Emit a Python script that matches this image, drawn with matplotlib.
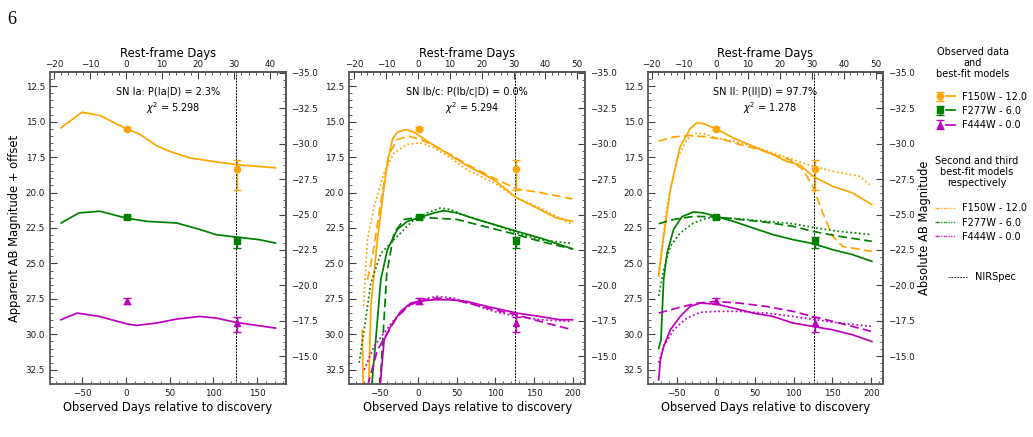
import matplotlib
matplotlib.use("Agg")
import matplotlib.pyplot as plt
from matplotlib.ticker import MultipleLocator
from matplotlib.lines import Line2D
from matplotlib.legend_handler import HandlerTuple

plt.rcParams['font.family'] = ['DejaVu Sans']

ONE_PLUS_Z = 4.12
DIST_MOD = 46.55

# ---------------- observed photometry ----------------
obs_days = [1, 127]
f150_obs = [15.5, 18.35]
f150_err = [[0.12, 0.63], [0.12, 1.45]]
f277_obs = [21.75, 23.45]
f277_err = [[0.12, 0.3], [0.12, 0.45]]
f444_obs = [27.62, 29.2]
f444_err = [[0.2, 0.42], [0.25, 0.6]]
nirspec_day = 126

band_labels = ["F150W - 12.0", "F277W - 6.0", "F444W - 0.0"]
band_colors = ["orange", "green", "m"]
band_markers = ["o", "s", "^"]

panel_titles = ["SN Ia: P(Ia|D) = 2.3%", "SN Ib/c: P(Ib/c|D) = 0.0%", "SN II: P(II|D) = 97.7%"]
panel_chi2 = ["5.298", "5.294", "1.278"]

# ---------------- SN Ia best fit ----------------
ia_f150_x = [-74.4, -50.5, -29.6, 0, 16, 35, 50, 73, 99, 126, 171]
ia_f150_y = [15.44, 14.34, 14.57, 15.5, 15.9, 16.7, 17.1, 17.56, 17.8, 18.03, 18.26]
ia_f277_x = [-74.4, -54, -30, 0, 23.5, 58, 84, 103, 126, 152, 171]
ia_f277_y = [22.15, 21.44, 21.32, 21.8, 22.03, 22.15, 22.6, 22.97, 23.14, 23.32, 23.56]
ia_f444_x = [-74.4, -56, -30, 0, 12, 35, 58, 84, 103, 126, 171]
ia_f444_y = [28.97, 28.5, 28.74, 29.25, 29.37, 29.2, 28.92, 28.74, 28.85, 29.16, 29.56]

# ---------------- SN Ib/c models ----------------
ibc_f150_x = [-72, -70.5, -64, -60.9, -52.3, -45.9, -39.5, -33, -26.6, -15.9, -5.1, 12, 33.4, 63.5, 97.8, 127.8, 157.8, 179, 199.8]
ibc_f150_y = [29.7, 34.5, 34.5, 28.03, 23.3, 20.5, 17.9, 16.26, 15.75, 15.56, 15.75, 16.38, 17.09, 18.1, 19.09, 20.38, 21.2, 21.8, 22.03]
ibc_f150_x2 = [-65.2, -58.7, -48, -37.3, -26.6, -11.6, 3.4, 20.6, 42, 63.5, 89.2, 106.3, 127.8, 157.8, 199.8]
ibc_f150_y2 = [26.15, 24.5, 20.7, 17.3, 16.26, 16.03, 16.26, 16.69, 17.32, 18.03, 18.74, 19.2, 19.75, 20.0, 20.45]
ibc_f150_x3 = [-70.3, -65.2, -56.6, -43.7, -30.9, -13.7, 3.4, 20.6, 42, 63.5, 97.8, 127.8, 157.8, 199.8]
ibc_f150_y3 = [28.0, 23.3, 21.0, 18.6, 17.2, 16.6, 16.5, 16.85, 17.56, 18.4, 19.3, 20.38, 21.1, 22.26]

ibc_f277_x = [-60, -58.7, -54.5, -48, -39.5, -26.6, -13.7, 0, 20.6, 33.4, 50.6, 76.3, 106.3, 127.8, 157.8, 199.8]
ibc_f277_y = [34.5, 33.0, 30.4, 26.15, 24.03, 22.6, 22.03, 21.8, 21.44, 21.28, 21.44, 21.9, 22.38, 22.74, 23.2, 23.98]
ibc_f277_x2 = [-50, -44.6, -40.3, -30.9, -18, 0, 20.6, 50.6, 84.9, 127.8, 157.8, 199.8]
ibc_f277_y2 = [34.5, 29.7, 25.7, 22.85, 21.9, 21.75, 21.8, 21.9, 22.38, 22.97, 23.44, 23.98]
ibc_f277_x3 = [-75.9, -69.5, -60.9, -48, -35.2, -22.3, -5.1, 12, 29.2, 42, 63.5, 97.8, 127.8, 157.8, 199.8]
ibc_f277_y3 = [32.0, 29.68, 26.4, 24.3, 23.56, 22.85, 21.9, 21.44, 21.09, 21.2, 21.68, 22.26, 22.85, 23.32, 23.6]

ibc_f444_x = [-50.2, -43.7, -35.2, -22.3, -9.4, 0, 20.6, 42, 63.5, 89.2, 127.8, 157.8, 183.5, 199.8]
ibc_f444_y = [34.5, 30.4, 29.44, 28.38, 27.8, 27.68, 27.56, 27.56, 27.68, 28.03, 28.5, 28.74, 28.97, 28.97]
ibc_f444_x2 = [-69.5, -52.3, -39.5, -26.6, -9.4, 7.7, 24.9, 46.3, 72, 97.8, 127.8, 157.8, 199.8]
ibc_f444_y2 = [34.5, 31.1, 29.9, 28.74, 27.9, 27.56, 27.44, 27.56, 27.9, 28.26, 28.62, 29.09, 29.68]
ibc_f444_x3 = [-69.5, -56.6, -43.7, -30.9, -13.7, 3.4, 24.9, 46.3, 72, 97.8, 127.8, 157.8, 199.8]
ibc_f444_y3 = [32.5, 30.85, 29.9, 28.97, 28.03, 27.56, 27.32, 27.44, 27.9, 28.38, 28.74, 28.97, 29.09]

# ---------------- SN II models ----------------
ii_f150_x = [-73.3, -66.9, -58.3, -45.6, -32.8, -24.3, -15.8, 0, 22.6, 48.1, 73.7, 90.7, 107.8, 124.8, 150.3, 175.9, 200.6]
ii_f150_y = [25.9, 23.09, 19.8, 16.74, 15.5, 15.09, 15.14, 15.5, 16.15, 16.74, 17.32, 17.8, 18.03, 18.85, 19.56, 20.03, 20.85]
ii_f150_x2 = [-73.3, -54.1, -32.8, -11.5, 9.8, 31.1, 56.6, 73.7, 95, 112, 124.8, 137.6, 150.3, 163.1, 200.6]
ii_f150_y2 = [16.38, 16.08, 15.98, 16.08, 16.26, 16.62, 16.97, 17.32, 17.68, 18.38, 19.56, 21.44, 23.09, 23.8, 24.15]
ii_f150_x3 = [-73.3, -62.6, -49.8, -37.1, -24.3, -11.5, 0, 22.6, 48.1, 73.7, 99.2, 124.8, 150.3, 184.4, 200.6]
ii_f150_y3 = [25.68, 21.0, 17.68, 16.26, 15.8, 15.9, 16.15, 16.38, 16.74, 17.2, 17.68, 18.15, 18.5, 18.85, 19.56]

ii_f277_x = [-73.3, -70.3, -66.9, -62.6, -54.1, -43.4, -28.5, -15.8, 0, 22.6, 48.1, 73.7, 99.2, 124.8, 150.3, 175.9, 200.6]
ii_f277_y = [31.0, 30.4, 26.15, 24.3, 22.6, 21.7, 21.37, 21.44, 21.68, 22.03, 22.5, 22.97, 23.32, 23.6, 24.03, 24.38, 24.85]
ii_f277_x2 = [-73.3, -54.1, -28.5, 0, 31.1, 65.2, 99.2, 124.8, 158.9, 200.6]
ii_f277_y2 = [22.2, 21.9, 21.68, 21.72, 21.9, 22.1, 22.38, 22.74, 23.09, 23.44]
ii_f277_x3 = [-73.3, -66.9, -58.3, -45.6, -28.5, -11.5, 0, 31.1, 65.2, 99.2, 129.1, 158.9, 200.6]
ii_f277_y3 = [27.3, 25.44, 23.8, 22.85, 22.15, 21.8, 21.75, 21.86, 22.03, 22.2, 22.5, 22.74, 22.97]

ii_f444_x = [-73.3, -71.1, -66.9, -58.3, -45.6, -32.8, -20.0, 0, 22.6, 48.1, 73.7, 99.2, 124.8, 150.3, 175.9, 200.6]
ii_f444_y = [33.2, 31.8, 30.85, 29.68, 28.74, 28.03, 27.8, 27.86, 28.15, 28.5, 28.74, 29.2, 29.44, 29.68, 30.03, 30.5]
ii_f444_x2 = [-73.3, -49.8, -24.3, 0, 31.1, 65.2, 99.2, 124.8, 158.9, 200.6]
ii_f444_y2 = [28.5, 28.15, 27.8, 27.68, 27.8, 28.03, 28.38, 28.74, 29.2, 29.8]
ii_f444_x3 = [-73.3, -66.9, -54.1, -37.1, -20.0, 0, 31.1, 65.2, 99.2, 129.1, 158.9, 200.6]
ii_f444_y3 = [32.0, 30.85, 29.68, 28.85, 28.45, 28.38, 28.38, 28.5, 28.74, 28.97, 29.2, 29.44]

panel_xlims = [(-87, 183), (-89, 216), (-87, 215)]

panels = [
    {"best": [(ia_f150_x, ia_f150_y), (ia_f277_x, ia_f277_y), (ia_f444_x, ia_f444_y)],
     "second": None, "third": None},
    {"best": [(ibc_f150_x, ibc_f150_y), (ibc_f277_x, ibc_f277_y), (ibc_f444_x, ibc_f444_y)],
     "second": [(ibc_f150_x2, ibc_f150_y2), (ibc_f277_x2, ibc_f277_y2), (ibc_f444_x2, ibc_f444_y2)],
     "third": [(ibc_f150_x3, ibc_f150_y3), (ibc_f277_x3, ibc_f277_y3), (ibc_f444_x3, ibc_f444_y3)]},
    {"best": [(ii_f150_x, ii_f150_y), (ii_f277_x, ii_f277_y), (ii_f444_x, ii_f444_y)],
     "second": [(ii_f150_x2, ii_f150_y2), (ii_f277_x2, ii_f277_y2), (ii_f444_x2, ii_f444_y2)],
     "third": [(ii_f150_x3, ii_f150_y3), (ii_f277_x3, ii_f277_y3), (ii_f444_x3, ii_f444_y3)]},
]

obs_sets = [(f150_obs, f150_err), (f277_obs, f277_err), (f444_obs, f444_err)]

fig = plt.figure(figsize=(10.33, 4.37), dpi=100)
lefts = [0.0484, 0.3379, 0.6273]
widths = [0.2285, 0.2285, 0.2275]
bottom, height = 0.1213, 0.714

spine_col = '0.35'
tick_fs = 6.3
lab_fs = 8.3

err_handles = []
line_handles = []
for i, p in enumerate(panels):
    ax = fig.add_axes([lefts[i], bottom, widths[i], height])
    for b in range(3):
        c = band_colors[b]
        bx, by = p["best"][b]
        ln, = ax.plot(bx, by, color=c, lw=1.25, ls='-')
        if p["second"] is not None:
            sx, sy = p["second"][b]
            ax.plot(sx, sy, color=c, lw=1.25, ls=(0, (5, 2.5)))
            tx, ty = p["third"][b]
            ax.plot(tx, ty, color=c, lw=1.25, ls=(0, (1, 1.5)))
        yv, ye = obs_sets[b]
        eb = ax.errorbar(obs_days, yv, yerr=ye, fmt=band_markers[b], color=c,
                         ms=4.5, capsize=3, elinewidth=1.0, capthick=1.0, zorder=5)
        if i == 0:
            err_handles.append(eb)
            line_handles.append(ln)
    ax.axvline(nirspec_day, color='k', lw=0.7, ls=(0, (2, 1.2)), zorder=1)

    ax.set_xlim(*panel_xlims[i])
    ax.set_ylim(33.5, 11.5)
    ax.xaxis.set_major_locator(MultipleLocator(50))
    ax.xaxis.set_minor_locator(MultipleLocator(10))
    ax.yaxis.set_major_locator(MultipleLocator(2.5))
    ax.yaxis.set_minor_locator(MultipleLocator(0.5))
    ax.tick_params(which='both', direction='in', labelsize=tick_fs, colors='0.25',
                   labelcolor='0.1', top=False, right=False)
    ax.tick_params(which='major', length=5, width=0.8)
    ax.tick_params(which='minor', length=2.5, width=0.6)
    for s in ax.spines.values():
        s.set_color(spine_col)
        s.set_linewidth(1.3)
    ax.set_xlabel("Observed Days relative to discovery", fontsize=lab_fs, labelpad=2)
    if i == 0:
        ax.set_ylabel("Apparent AB Magnitude + offset", fontsize=lab_fs, labelpad=3)

    secx = ax.secondary_xaxis('top', functions=(lambda d: d / ONE_PLUS_Z, lambda r: r * ONE_PLUS_Z))
    secx.xaxis.set_major_locator(MultipleLocator(10))
    secx.xaxis.set_minor_locator(MultipleLocator(2))
    secx.tick_params(which='both', direction='in', labelsize=tick_fs, colors='0.25', labelcolor='0.1', pad=2)
    secx.tick_params(which='major', length=5, width=0.8)
    secx.tick_params(which='minor', length=2.5, width=0.6)
    secx.spines['top'].set_color(spine_col)
    secx.spines['top'].set_linewidth(1.3)
    secx.set_xlabel("Rest-frame Days", fontsize=lab_fs, labelpad=2)

    secy = ax.secondary_yaxis('right', functions=(lambda m: m - DIST_MOD, lambda M: M + DIST_MOD))
    secy.yaxis.set_major_locator(MultipleLocator(2.5))
    secy.yaxis.set_minor_locator(MultipleLocator(0.5))
    secy.tick_params(which='both', direction='in', labelsize=tick_fs, colors='0.25', labelcolor='0.1')
    secy.tick_params(which='major', length=5, width=0.8)
    secy.tick_params(which='minor', length=2.5, width=0.6)
    secy.spines['right'].set_color(spine_col)
    secy.spines['right'].set_linewidth(1.3)
    if i == 2:
        secy.set_ylabel("Absolute AB Magnitude", fontsize=lab_fs, labelpad=2)

    ax.text(0.5, 0.937, panel_titles[i], transform=ax.transAxes, ha='center', va='center', fontsize=7)
    ax.text(0.52, 0.885, r'$\chi^2$ = ' + panel_chi2[i], transform=ax.transAxes, ha='center', va='center', fontsize=7)

# legend titles as centred text blocks
fig.text(0.9417, 0.8565, "Observed data\nand\nbest-fit models", ha='center', va='center',
         multialignment='center', fontsize=7, linespacing=1.15)
fig.text(0.9458, 0.607, "Second and third\nbest-fit models\nrespectively", ha='center', va='center',
         multialignment='center', fontsize=7, linespacing=1.15)

# legends (figure level; fig.legend keeps each one)
h1 = [(err_handles[b], line_handles[b]) for b in range(3)]
fig.legend(h1, band_labels, loc='upper left', bbox_to_anchor=(0.897, 0.81),
           frameon=False, fontsize=7,
           handler_map={tuple: HandlerTuple(ndivide=None, pad=0.25)}, handlelength=2.0,
           handletextpad=0.7, labelspacing=0.42)

h2 = [(Line2D([], [], color=c, lw=1.0, alpha=0.85, ls=(0, (3, 1, 1, 1))),
       Line2D([], [], color=c, lw=1.0, alpha=0.85, ls=(0, (1, 1))))
      for c in band_colors]
fig.legend(h2, band_labels, loc='upper left', bbox_to_anchor=(0.897, 0.5545),
           frameon=False, fontsize=7,
           handler_map={tuple: HandlerTuple(ndivide=None, pad=0.0)}, handlelength=2.0,
           handletextpad=0.7, labelspacing=0.42)

fig.legend([Line2D([], [], color='0.2', lw=0.7, ls=(0, (2, 1)))], ["NIRSpec"], loc='center left',
           bbox_to_anchor=(0.909, 0.366), frameon=False, fontsize=7, handlelength=2.0, handletextpad=0.8)

fig.text(0.007, 0.975, "6", fontsize=13, family='Liberation Serif', va='top', ha='left')

fig.savefig("out.png", dpi=100)
